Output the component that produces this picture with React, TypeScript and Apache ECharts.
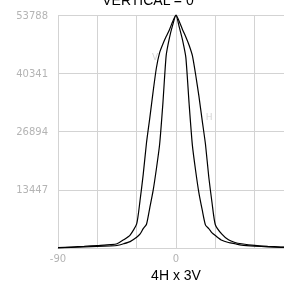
import React, { useEffect, useRef } from "react";
import * as echarts from "echarts";

const angles = [-90, -80, -70, -60, -50, -45, -40, -35, -30, -27.5, -25, -22.5, -20, -17.5, -15, -12.5, -10, -7.5, -5, -2.5, 0,
  2.5, 5, 7.5, 10, 12.5, 15, 17.5, 20, 22.5, 25, 27.5, 30, 35, 40, 45, 50, 60, 70, 80, 90];

// wider curve
const seriesV = [100, 250, 400, 600, 800, 1000, 1900, 3000, 5600, 10800, 17000, 24300, 30000, 36000, 41500, 45100, 47100, 48800, 50400, 52300, 53788,
  52300, 50400, 48700, 46800, 44400, 40000, 35000, 29400, 23900, 16400, 10400, 5400, 3200, 1900, 1300, 1000, 620, 400, 250, 150];

// narrower curve
const seriesH = [50, 150, 250, 400, 500, 600, 1000, 1500, 2500, 3200, 4500, 5500, 9300, 13200, 18200, 23900, 33400, 44400, 48500, 51500, 53788,
  51000, 48000, 44000, 33300, 23700, 17800, 12700, 8800, 5300, 4500, 3500, 2900, 1800, 1300, 1000, 700, 455, 300, 180, 100];

const yMax = 53788;
const yStep = 13447;
const xMin = -90;
const xMax = 90;
const xStep = 30;
const titleText = "VERTICAL = 0";
const xName = "4H x 3V";
const curveLabelTexts = ["V", "H"];
const curveLabelAngles = [-16, 25.2];
const curveLabelValues = [44200, 30300];

export default function App() {
  const ref = useRef<HTMLDivElement>(null);
  useEffect(() => {
    if (!ref.current) return;
    const chart = echarts.init(ref.current, undefined, { renderer: "svg" });
    const tickFont = { color: "#b4b4b4", fontSize: 10, fontFamily: "DejaVu Sans" };
    chart.setOption({
      animation: false,
      graphic: [
        {
          type: "text",
          x: 148,
          y: 7,
          style: {
            text: titleText,
            textAlign: "center",
            textVerticalAlign: "bottom",
            fontSize: 14,
            fontFamily: "Liberation Sans",
            fill: "#000",
          },
        },
      ],
      grid: { left: 58, top: 15, right: 6, bottom: 36, containLabel: false },
      xAxis: {
        type: "value",
        min: xMin,
        max: xMax,
        interval: xStep,
        name: xName,
        nameLocation: "middle",
        nameGap: 17,
        nameTextStyle: { color: "#000", fontSize: 14, fontFamily: "Liberation Sans", verticalAlign: "top" },
        axisLine: { show: true, lineStyle: { color: "#d3d3d3" } },
        axisTick: { show: false },
        splitLine: { show: true, lineStyle: { color: "#d3d3d3", width: 1 } },
        axisLabel: {
          ...tickFont,
          margin: 5,
          showMaxLabel: false,
          formatter: (v: number) => (v % 90 === 0 && v < xMax ? String(v) : ""),
        },
      },
      yAxis: {
        type: "value",
        min: 0,
        max: yMax,
        interval: yStep,
        axisLine: { show: true, lineStyle: { color: "#d3d3d3" } },
        axisTick: { show: false },
        splitLine: { show: true, lineStyle: { color: "#d3d3d3", width: 1 } },
        axisLabel: { ...tickFont, margin: 10, showMinLabel: false, formatter: (v: number) => String(v) },
      },
      series: [
        {
          type: "line",
          name: "V",
          data: angles.map((a, i) => [a, seriesV[i]]),
          showSymbol: false,
          symbol: "none",
          smooth: 0.2,
          lineStyle: { color: "#000", width: 1.2 },
        },
        {
          type: "line",
          name: "H",
          data: angles.map((a, i) => [a, seriesH[i]]),
          showSymbol: false,
          symbol: "none",
          smooth: 0.2,
          lineStyle: { color: "#000", width: 1.2 },
        },
        {
          type: "scatter",
          name: "labels",
          symbolSize: 1,
          itemStyle: { color: "rgba(0,0,0,0)" },
          silent: true,
          label: {
            show: true,
            position: "inside",
            color: "#c8c8c8",
            fontSize: 9,
            fontFamily: "DejaVu Sans",
            formatter: (p: any) => curveLabelTexts[p.dataIndex],
          },
          labelLayout: { hideOverlap: false },
          data: curveLabelAngles.map((a, i) => [a, curveLabelValues[i]]),
        },
      ],
    });
    return () => chart.dispose();
  }, []);
  return (
    <div style={{ position: "fixed", left: 0, top: 0, width: 284, height: 287, overflow: "hidden" }}>
      <div ref={ref} style={{ width: 300, height: 287 }} />
    </div>
  );
}
